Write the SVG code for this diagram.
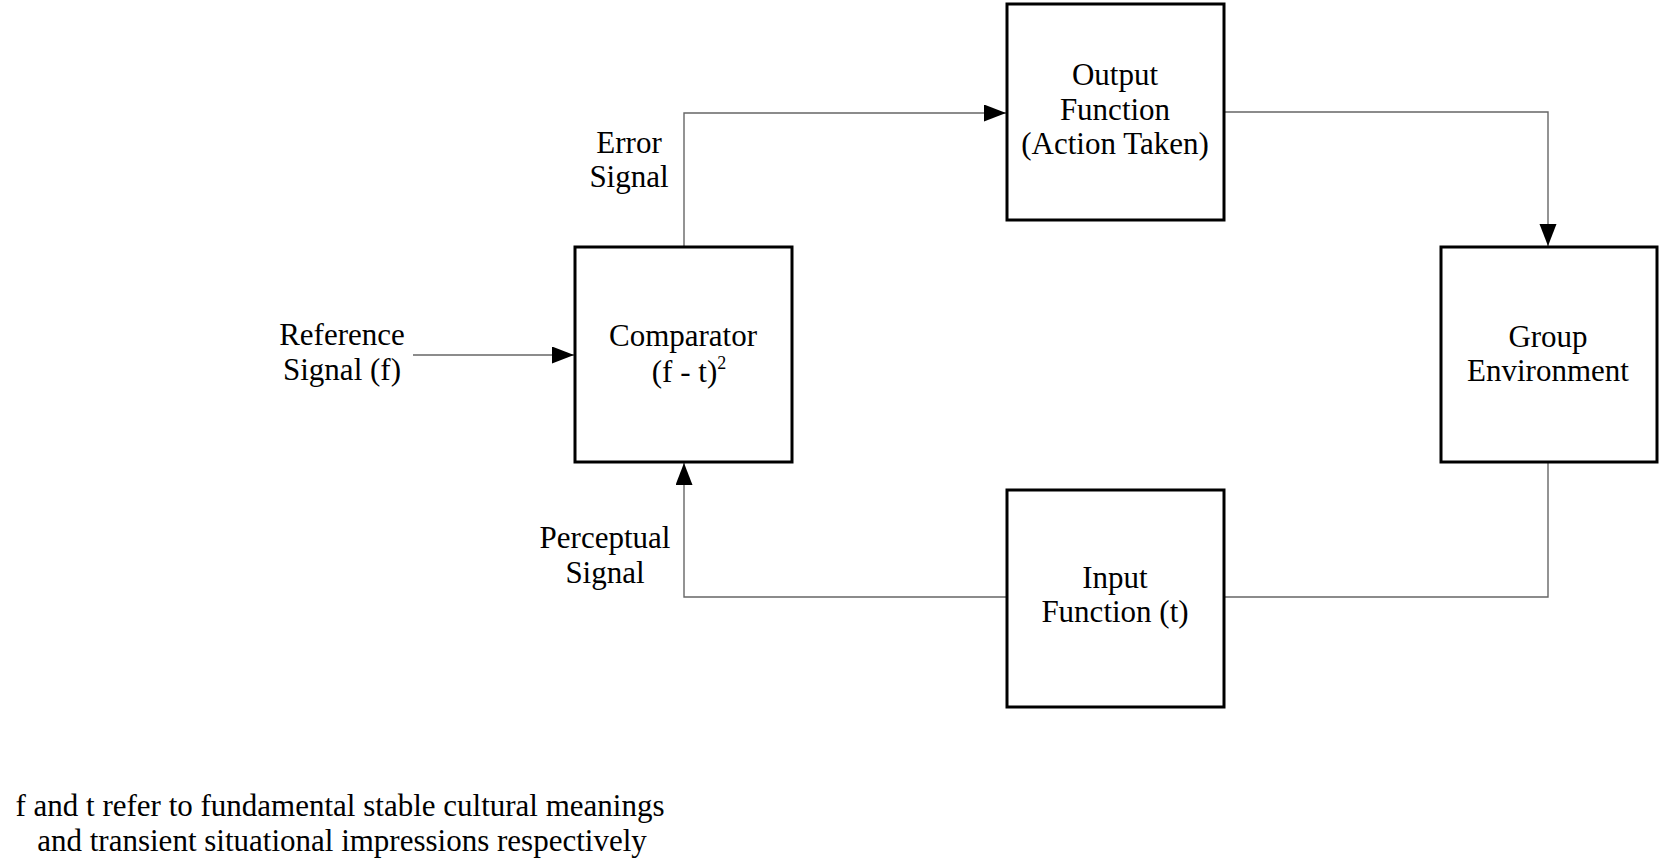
<svg xmlns="http://www.w3.org/2000/svg" width="1662" height="868" viewBox="0 0 1662 868">
  <style>
    .box { fill: #ffffff; stroke: #000000; stroke-width: 3; }
    .conn { fill: none; stroke: #666666; stroke-width: 1.4; }
    text { font-family: "Liberation Serif", "Times New Roman", serif; font-size: 31px; fill: #000000; text-anchor: middle; }
  </style>
  <defs>
    <marker id="arrow" markerUnits="userSpaceOnUse" markerWidth="24" markerHeight="18" refX="22" refY="8.5" orient="auto">
      <path d="M0,0 L22,8.5 L0,17 Z" fill="#000000"/>
    </marker>
  </defs>
  <rect width="1662" height="868" fill="#ffffff"/>

  <g id="connectors">
    <path class="conn" d="M413,355 H574" marker-end="url(#arrow)"/>
    <path class="conn" d="M684,247 V113 H1006" marker-end="url(#arrow)"/>
    <path class="conn" d="M1224,112 H1548 V246" marker-end="url(#arrow)"/>
    <path class="conn" d="M1548,463 V597 H1224"/>
    <path class="conn" d="M1007,597 H684 V463" marker-end="url(#arrow)"/>
  </g>

  <g id="comparator">
    <rect class="box" x="575" y="247" width="217" height="215"/>
    <text x="683" y="346">Comparator</text>
    <text x="689" y="382">(f - t)<tspan font-size="18" dy="-13">2</tspan></text>
  </g>

  <g id="output-function">
    <rect class="box" x="1007" y="4" width="217" height="216"/>
    <text x="1115" y="85">Output</text>
    <text x="1115" y="120">Function</text>
    <text x="1115" y="154">(Action Taken)</text>
  </g>

  <g id="group-environment">
    <rect class="box" x="1441" y="247" width="216" height="215"/>
    <text x="1548" y="347">Group</text>
    <text x="1548" y="381">Environment</text>
  </g>

  <g id="input-function">
    <rect class="box" x="1007" y="490" width="217" height="217"/>
    <text x="1115" y="588">Input</text>
    <text x="1115" y="622">Function (t)</text>
  </g>

  <g id="reference-signal">
    <text x="342" y="345">Reference</text>
    <text x="342" y="380">Signal (f)</text>
  </g>

  <g id="error-signal">
    <text x="629" y="153">Error</text>
    <text x="629" y="187">Signal</text>
  </g>

  <g id="perceptual-signal">
    <text x="605" y="548">Perceptual</text>
    <text x="605" y="583">Signal</text>
  </g>

  <g id="footnote">
    <text x="340" y="816">f and t refer to fundamental stable cultural meanings</text>
    <text x="342" y="851">and transient situational impressions respectively</text>
  </g>
</svg>
